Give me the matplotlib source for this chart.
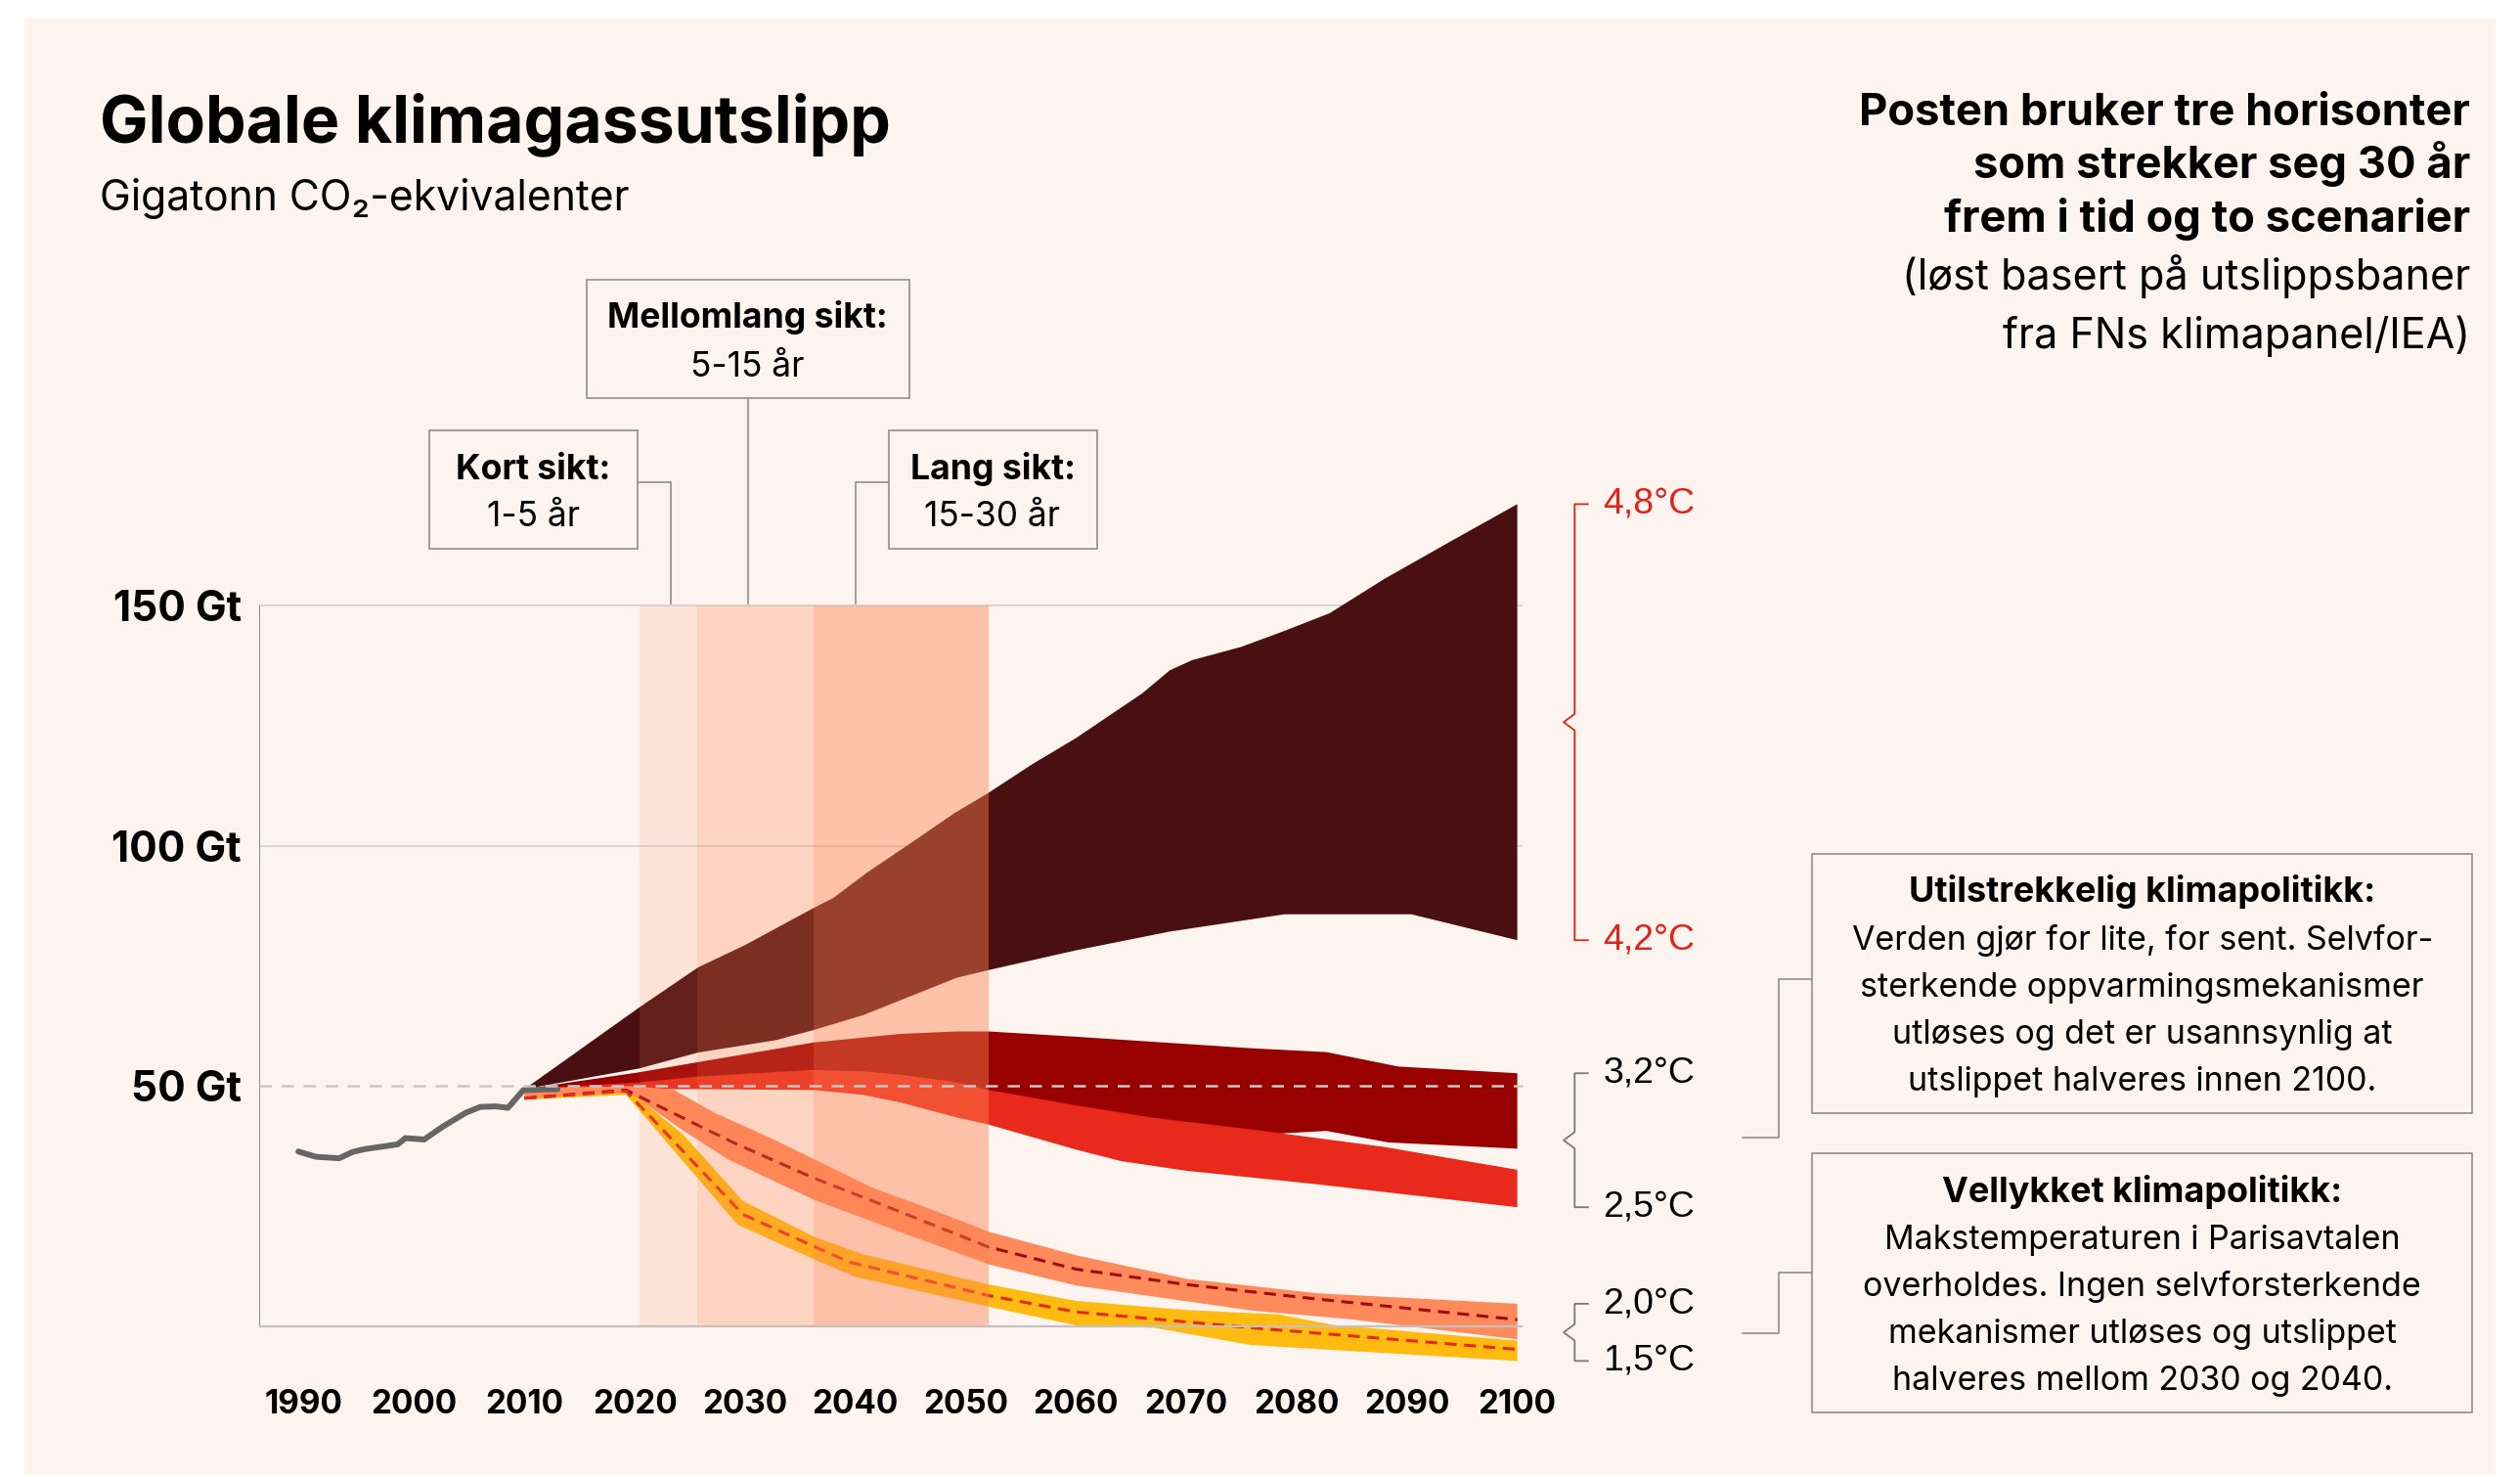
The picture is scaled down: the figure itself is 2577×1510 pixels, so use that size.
import matplotlib.pyplot as plt
from matplotlib.patches import Rectangle
from matplotlib.lines import Line2D

W, H = 2577, 1510

# historical emissions (Gt CO2-eq)
hist_years = [1989.5, 1991.1, 1993.2, 1994.4, 1995.5, 1998.5, 1999.2, 2000.9,
              2002.6, 2004.7, 2006.0, 2007.4, 2008.5, 2009.9, 2013.0]
hist_gt = [36.4, 35.3, 35.0, 36.3, 36.9, 37.9, 39.2, 38.9,
           41.6, 44.5, 45.7, 45.8, 45.5, 49.2, 49.4]

# 4.2 - 4.8 C band
b48_up_years = [2010, 2020.4, 2025.7, 2030, 2036.2, 2038, 2041, 2045, 2049, 2052,
                2056, 2060, 2066, 2068.5, 2070.5, 2075, 2079, 2083, 2088, 2094, 2100]
b48_up = [49.4, 66.4, 74.7, 79.4, 87.1, 89.2, 94.4, 100.6, 106.9, 111.0,
          117.0, 122.5, 131.8, 136.6, 138.7, 141.5, 144.9, 148.5, 155.7, 163.5, 171.2]
b48_lo_years = [2010, 2020.4, 2025.7, 2032.8, 2036.2, 2040.7, 2049.2, 2052.1,
                2060, 2068.5, 2078.9, 2090.4, 2100]
b48_lo = [49.4, 53.7, 57.0, 59.6, 61.7, 64.8, 72.6, 74.2, 78.3, 82.2, 85.8, 85.8, 80.4]

# 3.2 C band
b32_up_years = [2010, 2020.4, 2025.7, 2036.2, 2044.1, 2049.2, 2052.1, 2060,
                2075.9, 2082.7, 2089.2, 2100]
b32_up = [49.4, 52.9, 55.0, 59.1, 60.9, 61.4, 61.4, 60.3, 57.9, 57.1, 54.1, 52.7]
b32_lo_years = [2010, 2040, 2055, 2065, 2075.9, 2082.7, 2088.3, 2100]
b32_lo = [49.4, 50.5, 46.5, 42.5, 39.8, 40.7, 38.3, 37.0]

# 2.5 C band
b25_up_years = [2010, 2020.4, 2025.7, 2036.2, 2040.7, 2044.1, 2049.2, 2052.1,
                2060, 2067.1, 2075.9, 2087.8, 2100]
b25_up = [49.4, 50.8, 52.0, 53.4, 53.1, 52.4, 50.8, 49.2, 46.0, 43.4, 41.0, 37.4, 32.6]
b25_lo_years = [2010, 2025.7, 2036.2, 2040.7, 2044.1, 2049.2, 2052.1, 2060,
                2064.1, 2070, 2081.8, 2100]
b25_lo = [49.4, 49.4, 49.2, 48.2, 46.6, 43.5, 42.0, 36.8, 34.4, 32.4, 29.6, 24.8]

# 2.0 C band + median
b20_up_years = [2010, 2019.5, 2023.4, 2027.1, 2032.6, 2041.4, 2047.5, 2052.1,
                2060, 2070, 2081.8, 2100]
b20_up = [49.6, 50.0, 49.4, 44.6, 38.9, 29.0, 23.8, 19.7, 14.8, 9.9, 6.9, 4.7]
b20_lo_years = [2010, 2019.5, 2024.3, 2028.5, 2036.2, 2044.0, 2052.1, 2060,
                2075.9, 2084.8, 2100]
b20_lo = [47.5, 48.7, 40.9, 34.7, 26.4, 19.7, 12.9, 8.5, 3.3, 1.5, -2.7]
b20_mid_years = [2010, 2019.2, 2028.9, 2036.0, 2044.1, 2052.1, 2060, 2070, 2081.8, 2100]
b20_mid = [47.5, 49.2, 38.3, 31.1, 23.8, 16.5, 11.9, 8.7, 5.7, 1.4]

# 1.5 C band + median
b15_up_years = [2010, 2019.2, 2024.4, 2029.8, 2036.3, 2040.7, 2052.1, 2060,
                2070, 2078.3, 2083.3, 2100]
b15_up = [49.4, 49.6, 39.9, 26.1, 18.6, 15.0, 8.7, 5.3, 3.4, 2.5, 0.3, -3.0]
b15_lo_years = [2010, 2019.2, 2029.3, 2036.3, 2040.0, 2052.1, 2060, 2067.1,
                2075.9, 2100]
b15_lo = [47.2, 48.2, 21.2, 13.9, 10.3, 4.1, 0.2, -0.3, -3.9, -7.2]
b15_mid_years = [2010, 2019.2, 2029.8, 2039.4, 2052.1, 2060, 2075.9, 2100]
b15_mid = [47.5, 49.0, 23.3, 13.4, 6.4, 3.0, -0.3, -4.8]

# time horizons (shaded)
spans = [(2020.4, 2025.7), (2025.7, 2036.2), (2036.2, 2052.1)]
span_alpha = [0.14, 0.28, 0.44]

year_ticks = list(range(1990, 2101, 10))
gt_ticks = [50, 100, 150]

SANS = 'Inter'
ARIAL = 'Liberation Sans'
BG = '#fdf3ef'
LINE = '#8f8f8f'

fig = plt.figure(figsize=(W / 100, H / 100), dpi=100, facecolor='white')
renderer = fig.canvas.get_renderer()


def fx(px):
    return px / W


def fy(py):
    return 1 - py / H


def ftext(x, y, s, **kw):
    return fig.text(fx(x), fy(y), s, **kw)


def fline(xs, ys, color=LINE, lw=1.2):
    fig.add_artist(Line2D([fx(v) for v in xs], [fy(v) for v in ys],
                          color=color, lw=lw, transform=fig.transFigure))


def fbox(x0, y0, x1, y1):
    fig.add_artist(Rectangle((fx(x0), fy(y1)), fx(x1) - fx(x0), fy(y0) - fy(y1),
                             transform=fig.transFigure, fill=False,
                             edgecolor=LINE, lw=1.2))


def fit(texts, ref, width_px):
    # size a block of texts so that its reference line gets the wanted width
    size = ref.get_fontsize() * width_px / ref.get_window_extent(renderer).width
    for t in texts:
        t.set_fontsize(size)


# page background
fig.add_artist(Rectangle((fx(25), fy(1507)), fx(2552) - fx(25), fy(19) - fy(1507),
                         transform=fig.transFigure, facecolor=BG, lw=0, zorder=-10))

ax = fig.add_axes([0.10283, 0.06298, 0.50365, 0.60805])
ax.set_facecolor('none')
ax.set_xlim(1985.94, 2101)
ax.set_ylim(-12, 175)
for s in ax.spines.values():
    s.set_visible(False)

# grid
ax.hlines([100, 150], 1985.94, 2100.5, color='#d2d2d2', lw=1.2, zorder=1)
ax.vlines(1985.94, 0, 150, color='#8a8a8a', lw=1.4, zorder=1)


def band(xu, yu, xl, yl, color, z):
    ax.fill(list(xu) + list(xl)[::-1], list(yu) + list(yl)[::-1],
            color=color, lw=0, zorder=z)


band(b48_up_years, b48_up, b48_lo_years, b48_lo, '#4a0f10', 2)
band(b32_up_years, b32_up, b32_lo_years, b32_lo, '#990000', 3)
band(b25_up_years, b25_up, b25_lo_years, b25_lo, '#e8291c', 4)
band(b15_up_years, b15_up, b15_lo_years, b15_lo, '#ffbb0f', 5)
band(b20_up_years, b20_up, b20_lo_years, b20_lo, '#ff8a5b', 6)
ax.plot(b20_mid_years, b20_mid, color='#a00c0c', lw=2.2, dashes=(4, 2.5), zorder=7)
ax.plot(b15_mid_years, b15_mid, color='#e8291c', lw=2.2, dashes=(4, 2.5), zorder=7)
ax.plot(hist_years, hist_gt, color='#666666', lw=4.3, zorder=8,
        solid_capstyle='round', solid_joinstyle='round')

for (x0, x1), a in zip(spans, span_alpha):
    ax.fill_between([x0, x1], 0, 150, color='#ff8250', alpha=a, lw=0, zorder=9)

ax.hlines(50, 1985.94, 2100.5, color='#c8c8c8', lw=1.8, linestyles=(0, (5, 4)), zorder=10)
ax.hlines(0, 1985.94, 2100.5, color='#c2c2c2', lw=1.6, zorder=10)

ax.set_xticks(year_ticks, [str(y) for y in year_ticks])
ax.set_yticks(gt_ticks, [f'{g} Gt' for g in gt_ticks])
ax.tick_params(length=0)
ax.tick_params(axis='x', pad=4)
ax.tick_params(axis='y', pad=13)
xlabs = ax.get_xticklabels()
ylabs = ax.get_yticklabels()
for lab in xlabs + ylabs:
    lab.set_fontfamily(SANS)
    lab.set_fontweight('bold')
    lab.set_fontsize(20)
fit(xlabs, xlabs[0], 80)
fit(ylabs, ylabs[2], 131)


# temperature brackets
def bracket(top, bottom, color, tcolor, lab_top, lab_bot):
    mid = (top + bottom) / 2
    xv, xt, xn = 2105.2, 2106.4, 2104.2
    d = 1.7
    ax.plot([xt, xv, xv, xn, xv, xv, xt],
            [top, top, mid + d, mid, mid - d, bottom, bottom],
            color=color, lw=1.3, clip_on=False, zorder=10)
    out = []
    for yv, s in ((top, lab_top), (bottom, lab_bot)):
        out.append(ax.text(2107.8, yv, s, color=tcolor, fontsize=25, family=ARIAL,
                           va='center', ha='left', clip_on=False))
    return out


temps = bracket(b48_up[-1], b48_lo[-1], '#e0241b', '#e0241b', '4,8°C', '4,2°C')
temps += bracket(b32_up[-1], b25_lo[-1], '#7a7a7a', 'black', '3,2°C', '2,5°C')
temps += bracket(b20_up[-1], b15_lo[-1], '#7a7a7a', 'black', '2,0°C', '1,5°C')
fit(temps, temps[0], 94)

# titles
t = ftext(102, 145, 'Globale klimagassutslipp', family=SANS, weight='bold',
          fontsize=40, va='baseline')
fit([t], t, 810)
t = ftext(102, 215, 'Gigatonn CO₂-ekvivalenter', family=[SANS, 'DejaVu Sans'],
          fontsize=25, va='baseline')
fit([t], t, 542)

right_bold = ['Posten bruker tre horisonter', 'som strekker seg 30 år',
              'frem i tid og to scenarier']
right_reg = ['(løst basert på utslippsbaner', 'fra FNs klimapanel/IEA)']
rb = [ftext(2526, 127.5 + i * 54.5, s, family=SANS, weight='bold', fontsize=25,
            ha='right', va='baseline') for i, s in enumerate(right_bold)]
rr = [ftext(2526, 296 + i * 60, s, family=SANS, fontsize=25,
            ha='right', va='baseline') for i, s in enumerate(right_reg)]
fit(rb, rb[0], 624)
fit(rr, rr[0], 580)

# horizon boxes
hb, hr = [], []
fbox(599.5, 286, 930, 407.3)
hb.append(ftext(764.7, 335, 'Mellomlang sikt:', family=SANS, weight='bold',
                ha='center', va='baseline'))
hr.append(ftext(764.7, 385, '5-15 år', family=SANS, ha='center', va='baseline'))
fline([765, 765], [407.3, 617])

fbox(439, 440, 652, 560.7)
hb.append(ftext(545.5, 490, 'Kort sikt:', family=SANS, weight='bold',
                ha='center', va='baseline'))
hr.append(ftext(545.5, 538, '1-5 år', family=SANS, ha='center', va='baseline'))
fline([652, 686, 686], [492.7, 492.7, 617])

fbox(908.6, 440, 1121.5, 560.7)
hb.append(ftext(1015, 490, 'Lang sikt:', family=SANS, weight='bold',
                ha='center', va='baseline'))
hr.append(ftext(1015, 538, '15-30 år', family=SANS, ha='center', va='baseline'))
fline([908.6, 874.6, 874.6], [492.7, 492.7, 617])
fit(hb, hb[0], 286)
fit(hr, hr[0], 117)

# scenario boxes
box1 = ['Verden gjør for lite, for sent. Selvfor-',
        'sterkende oppvarmingsmekanismer',
        'utløses og det er usannsynlig at',
        'utslippet halveres innen 2100.']
box2 = ['Makstemperaturen i Parisavtalen',
        'overholdes. Ingen selvforsterkende',
        'mekanismer utløses og utslippet',
        'halveres mellom 2030 og 2040.']
pb, pr = [], []
fbox(1853, 872.6, 2528.4, 1137.5)
pb.append(ftext(2190.7, 922, 'Utilstrekkelig klimapolitikk:', family=SANS,
                weight='bold', ha='center', va='baseline'))
for i, s in enumerate(box1):
    pr.append(ftext(2190.7, 971 + i * 48, s, family=SANS, ha='center', va='baseline'))
fline([1781.7, 1818.7, 1818.7, 1853], [1163, 1163, 1001, 1001])

fbox(1853, 1178.8, 2528.4, 1443.6)
pb.append(ftext(2190.7, 1229, 'Vellykket klimapolitikk:', family=SANS,
                weight='bold', ha='center', va='baseline'))
for i, s in enumerate(box2):
    pr.append(ftext(2190.7, 1277 + i * 48, s, family=SANS, ha='center', va='baseline'))
fline([1781.7, 1818.7, 1818.7, 1853], [1362.5, 1362.5, 1301, 1301])
fit(pb, pb[0], 477)
fit(pr, pr[1], 580)

fig.savefig('out.png', dpi=100, facecolor='white')
